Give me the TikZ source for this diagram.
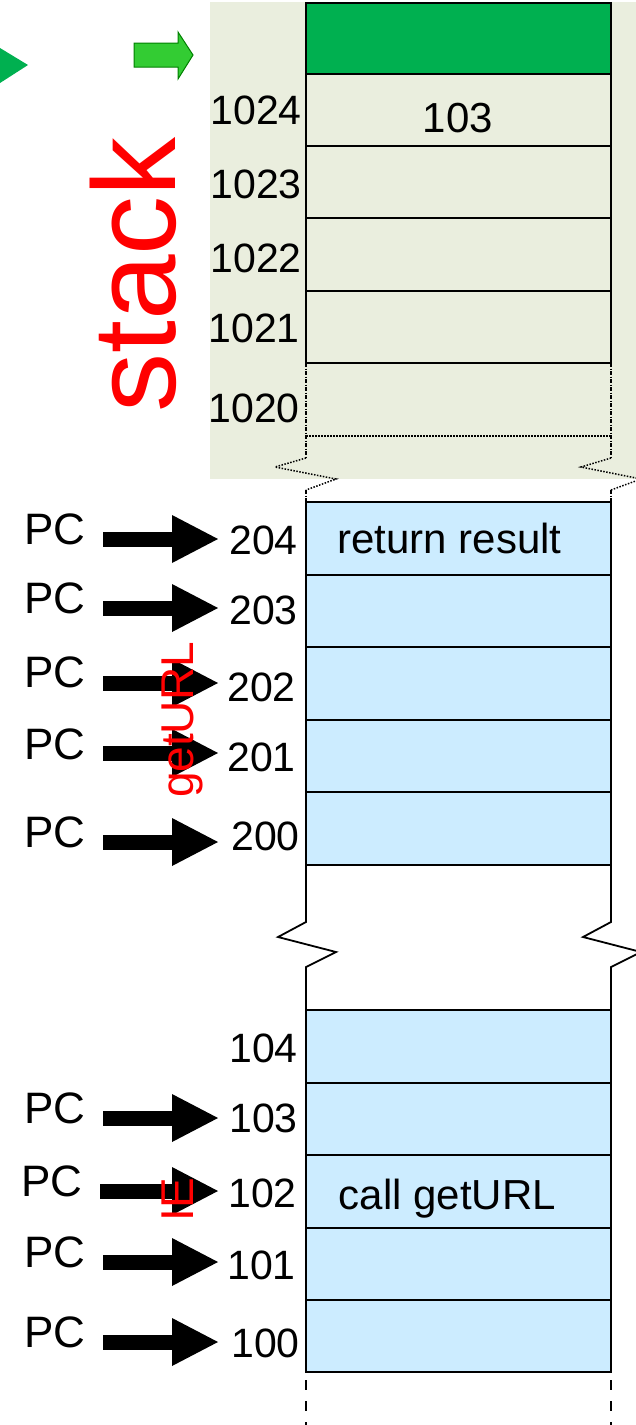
\documentclass[tikz,border=0pt]{standalone}
\usepackage{fontspec}
\setmainfont{Liberation Sans}
\usetikzlibrary{arrows.meta}
\definecolor{stackbg}{RGB}{234,238,222}
\definecolor{memblue}{RGB}{204,236,255}
\definecolor{topgreen}{RGB}{0,176,80}
\definecolor{arrowgreen}{RGB}{51,204,51}
\definecolor{arrowedge}{RGB}{0,128,0}
\begin{document}
\begin{tikzpicture}[x=1pt,y=-1pt,
  cell/.style={draw=black, line width=1.8pt, minimum width=305pt, inner sep=0pt, outer sep=0pt},
  addr/.style={font=\fontsize{41}{41}\selectfont, anchor=east, inner sep=0pt},
  pclabel/.style={font=\fontsize{44}{44}\selectfont, inner sep=0pt},
  celltext/.style={font=\fontsize{42}{42}\selectfont, anchor=base, inner sep=0pt},
  pcarrow/.style={line width=15pt, -{Triangle[length=46pt, width=48pt, line width=0pt]}},
  redtag/.style={text=red, rotate=90, anchor=base, inner sep=0pt},
  brokenside/.style={line width=1.6pt, dash pattern=on 4pt off 1.5pt on 1pt off 1.5pt},
  dotline/.style={line width=1.5pt, dash pattern=on 1.5pt off 1.5pt},
  solidside/.style={line width=1.8pt},
  tailside/.style={line width=1.8pt, dash pattern=on 10pt off 11pt},
]
\useasboundingbox (0,0) rectangle (636,1425);
\clip (0,0) rectangle (636,1425);

% stack area
\fill[stackbg] (210,2) rectangle (636,479);

% pointer marks
\fill[topgreen] (0,48) -- (28,65) -- (0,83) -- cycle;
\draw[arrowedge, fill=arrowgreen, line width=1pt]
  (134,43) -- (178,43) -- (178,32) -- (193,55) -- (178,79) -- (178,67) -- (134,67) -- cycle;

% stack cells
\node[cell, fill=topgreen, minimum height=71pt] (top) at (458.5,38.5) {};
\foreach \t/\b/\n in {74/146/s1024, 146/218/s1023, 218/291/s1022, 291/363/s1021}
  \node[cell, minimum height={\b-\t}] (\n) at (458.5,{(\t+\b)/2}) {};

% open cell at the stack bottom, with a torn edge
\coordinate (c20bl) at (306,436);
\coordinate (c20br) at (611,436);
\coordinate (zlA) at (306,458);
\coordinate (zlB) at (275,467);
\coordinate (zlC) at (336,479);
\coordinate (zlD) at (306,490);
\coordinate (zrA) at (611,458);
\coordinate (zrB) at (581,467);
\coordinate (zrC) at (641,479);
\coordinate (zrD) at (611,490);
\draw[brokenside] (s1021.south west) -- (zlA);
\draw[brokenside] (s1021.south east) -- (zrA);
\draw[dotline] (c20bl) -- (c20br);
\draw[dotline] (zlA) -- (zlB) -- (zlC) -- (zlD);
\draw[dotline] (zrA) -- (zrB) -- (zrC) -- (zrD);

% code cells
\foreach \t/\b/\n in {502/575/c204, 575/647/c203, 647/720/c202, 720/792/c201, 792/865/c200,
                      1010/1083/c104, 1083/1155/c103, 1155/1228/c102, 1228/1300/c101, 1300/1372/c100}
  \node[cell, fill=memblue, minimum height={\b-\t}] (\n) at (458.5,{(\t+\b)/2}) {};

\draw[brokenside] (zlD) -- (c204.north west);
\draw[brokenside] (zrD) -- (c204.north east);

% gap between the two code blocks
\draw[solidside] (c200.south west) -- (306,922) -- (278,937) -- (336,952) -- (306,967) -- (c104.north west);
\draw[solidside] (c200.south east) -- (611,922) -- (583,937) -- (641,952) -- (611,967) -- (c104.north east);

% memory continues below
\coordinate (tl) at (306,1425);
\coordinate (tr) at (611,1425);
\draw[tailside] ([yshift=-8pt]c100.south west) -- (tl);
\draw[tailside] ([yshift=-8pt]c100.south east) -- (tr);

% cell contents
\node[celltext] (t103) at (458,132) {103};
\node[celltext] (tret) at (449.5,553) {return result};
\node[celltext] (tcall) at (447.5,1209) {call getURL};

% stack addresses
\foreach \n/\x/\y in {1024/302/110, 1023/302/184, 1022/302/258, 1021/300/328, 1020/300/408}
  \node[addr] (a\n) at (\x,\y) {\n};

% code addresses
\foreach \n/\x/\y in {204/298/540, 203/298/610, 202/296/687, 201/296/757, 200/300/836,
                      104/298/1048, 103/298/1118, 102/297/1193, 101/296/1265, 100/300/1343}
  \node[addr] (a\n) at (\x,\y) {\n};

% program counter marks
\foreach \n/\px/\py/\ax/\ay in {204/55/529/103/539, 203/55/598/103/608, 202/55/672/103/683,
                                201/55/744/103/753, 200/55/832/103/842, 103/55/1108/103/1118,
                                102/52/1181/100/1191, 101/55/1252/103/1262, 100/55/1332/103/1342}
{
  \node[pclabel] (pc\n) at (\px,\py) {PC};
  \coordinate (tail\n) at (\ax,\ay);
  \coordinate (tip\n) at (218,\ay);
  \draw[pcarrow] (tail\n) -- (tip\n);
}

% region tags
\node[redtag, font=\fontsize{118}{118}\selectfont] (stacktag) at (175,275) {stack};
\node[redtag, font=\fontsize{46}{46}\selectfont] (geturltag) at (193,720) {getURL};
\node[redtag, font=\fontsize{46}{46}\selectfont] (ietag) at (193,1200) {IE};
\end{tikzpicture}
\end{document}
